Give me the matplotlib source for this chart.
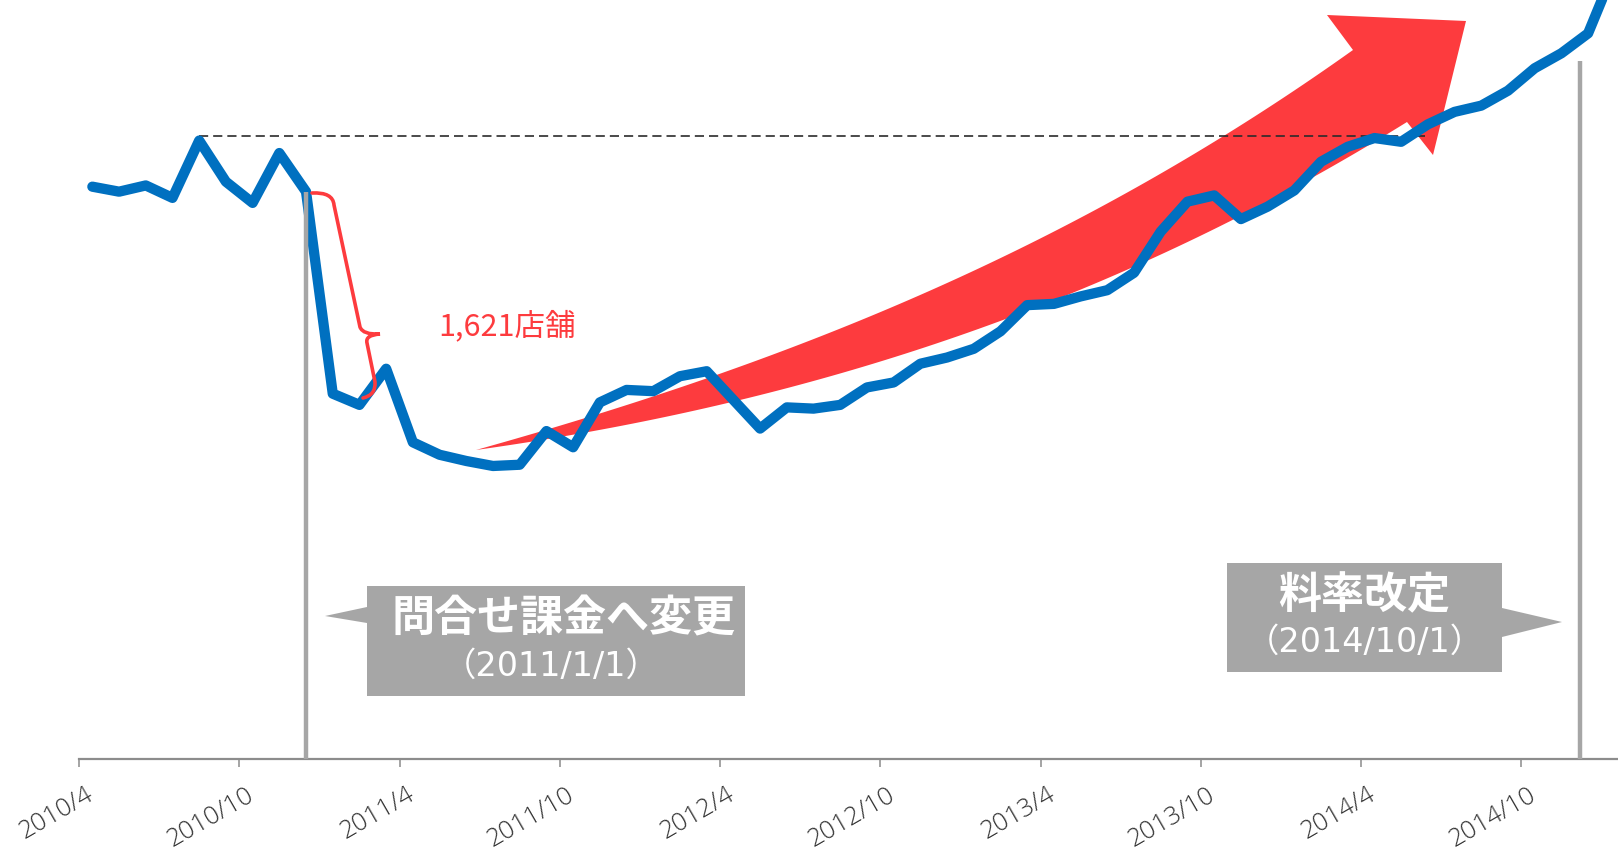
import numpy as np
import matplotlib
matplotlib.use('Agg')
import matplotlib.pyplot as plt
from matplotlib.path import Path
from matplotlib.patches import PathPatch, Polygon
from matplotlib.transforms import Affine2D, ScaledTranslation

plt.rcParams['font.family'] = ['Noto Sans CJK JP', 'DejaVu Sans']

# monthly store count, 2010/4 .. 2015/1
months = [f'{y}/{m}' for y in range(2010, 2016) for m in range(1, 13)][3:61]
stores = [4590, 4550, 4600, 4500, 4960, 4630, 4460, 4860, 4550, 2930,
          2840, 3130, 2540, 2440, 2390, 2350, 2360, 2630, 2500, 2860,
          2960, 2950, 3070, 3110, 2880, 2650, 2820, 2810, 2840, 2980,
          3020, 3170, 3220, 3290, 3430, 3640, 3650, 3710, 3760, 3900,
          4230, 4470, 4520, 4330, 4430, 4560, 4790, 4910, 4980, 4950,
          5090, 5190, 5240, 5360, 5540, 5660, 5820, 6340]
tick_labels = months[::6][:10]

event_left = 8       # 2011/1/1 change, drawn at the 2010/12 point
event_right = 56.2   # 2014/10/1 rate revision
drop_text = '1,621店舗'

blue = '#0070C0'
red = '#FD3B3E'
gray = '#A6A6A6'

fig = plt.figure(figsize=(16.18, 8.49), dpi=100)
ax = fig.add_axes([0, 90 / 849, 1, 759 / 849])
ax.patch.set_visible(False)

x = np.arange(len(stores)) + 0.5
ax.set_xlim(-79 / 26.71, (1618 - 79) / 26.71)
ax.set_ylim(0, 759 * 8.02)

# pixel transform (origin top-left) for the drawn decorations
px = Affine2D().scale(1 / 1618, -1 / 849).translate(0, 1) + fig.transFigure


def edge(pts, x0, y0, x1, y1, n=90):
    # smooth arrow edge through traced points, pinned at both ends
    pts = np.array(pts, dtype=float)
    c = np.polyfit(pts[:, 0], pts[:, 1], 3)
    xs = np.linspace(x0, x1, n)
    ys = np.polyval(c, xs)
    r0, r1 = y0 - ys[0], y1 - ys[-1]
    ys = ys + r0 + (r1 - r0) * (xs - x0) / (x1 - x0)
    return np.column_stack([xs, ys])


upper = edge([(476, 450), (560, 427), (740, 368), (771, 352), (800, 347),
              (993, 260), (1051, 238), (1100, 205), (1190, 157),
              (1227, 133), (1267, 110), (1353, 50)], 476, 450, 1353, 50)
lower = edge([(476, 450), (560, 437), (600, 418), (701, 410), (740, 397),
              (800, 383), (911, 353), (1100, 280), (1121, 267), (1200, 237),
              (1262, 200), (1320, 170), (1407, 122)], 476, 450, 1407, 122)
head = [(1327, 15), (1466, 21), (1433, 155)]
arrow = np.vstack([upper, head, lower[::-1]])
ax.add_patch(Polygon(arrow, closed=True, transform=px, facecolor=red,
                     edgecolor='none', zorder=1, clip_on=False))

# dashed reference at the 2010/8 peak (touching the top of the thick line)
up5 = ScaledTranslation(0, 0.05, fig.dpi_scale_trans)
ax.plot([x[4], 50.4], [stores[4], stores[4]], color='#2b2b2b', lw=1.2,
        dashes=(5.5, 3.0), zorder=2, transform=ax.transData + up5)

ax.plot(x, stores, color=blue, lw=7.4, solid_joinstyle='round',
        solid_capstyle='round', zorder=3)

# event markers
ax.plot([x[event_left], x[event_left]], [0, stores[event_left]], color=gray,
        lw=3.2, zorder=4, solid_capstyle='butt')
ax.plot([event_right, event_right], [0, 5600], color=gray, lw=3.2, zorder=4,
        solid_capstyle='butt')

# brace for the drop
P = Path
bv = [(312, 193), (333, 192), (334, 205), (360, 327), (363, 335), (380, 334),
      (365, 335), (367, 343), (375, 382), (376, 395), (363, 398)]
bc = [P.MOVETO, P.CURVE3, P.CURVE3, P.LINETO, P.CURVE3, P.CURVE3,
      P.CURVE3, P.CURVE3, P.LINETO, P.CURVE3, P.CURVE3]
ax.add_patch(PathPatch(Path(bv, bc), transform=px, facecolor='none',
                       edgecolor=red, lw=2.6, capstyle='round', zorder=5,
                       clip_on=False))
ax.text(507, 326, drop_text, transform=px, color=red, fontsize=22,
        ha='center', va='center')

# callouts
ax.add_patch(Polygon([(367, 586), (745, 586), (745, 696), (367, 696),
                      (367, 623), (325, 616), (367, 607)], closed=True,
                     transform=px, facecolor=gray, edgecolor='none',
                     zorder=1, clip_on=False))
ax.add_patch(Polygon([(1227, 563), (1502, 563), (1502, 608), (1562, 622),
                      (1502, 637), (1502, 672), (1227, 672)], closed=True,
                     transform=px, facecolor=gray, edgecolor='none',
                     zorder=1, clip_on=False))
ax.text(564, 618, '問合せ課金へ変更', transform=px, color='white', fontsize=31,
        fontweight='bold', ha='center', va='center')
ax.text(551, 666, '（2011/1/1）', transform=px, color='white', fontsize=24,
        ha='center', va='center', family=['DejaVu Sans', 'Noto Sans CJK JP'])
ax.text(1364, 595, '料率改定', transform=px, color='white', fontsize=31,
        fontweight='bold', ha='center', va='center')
ax.text(1365, 642, '（2014/10/1）', transform=px, color='white', fontsize=24,
        ha='center', va='center', family=['DejaVu Sans', 'Noto Sans CJK JP'])

# axis styling
for s in ['left', 'right', 'top']:
    ax.spines[s].set_visible(False)
ax.spines['bottom'].set_color('#8C8C8C')
ax.spines['bottom'].set_linewidth(1.6)
ax.spines['bottom'].set_bounds(0, ax.get_xlim()[1])
ax.set_yticks([])
ax.set_xticks(np.arange(len(tick_labels)) * 6, tick_labels)
ax.tick_params(axis='x', length=5.8, width=1.1, color='#8C8C8C', pad=11,
               labelsize=18.3, labelcolor='#333333')
offset = ScaledTranslation(0.065, 0, fig.dpi_scale_trans)
for lab in ax.get_xticklabels():
    lab.set_family('Open Sans')
    lab.set_fontweight(300)
    lab.set_rotation(30)
    lab.set_ha('right')
    lab.set_va('top')
    lab.set_rotation_mode('anchor')
    lab.set_transform(lab.get_transform() + offset)

fig.savefig('out.png', dpi=100, facecolor='white')
